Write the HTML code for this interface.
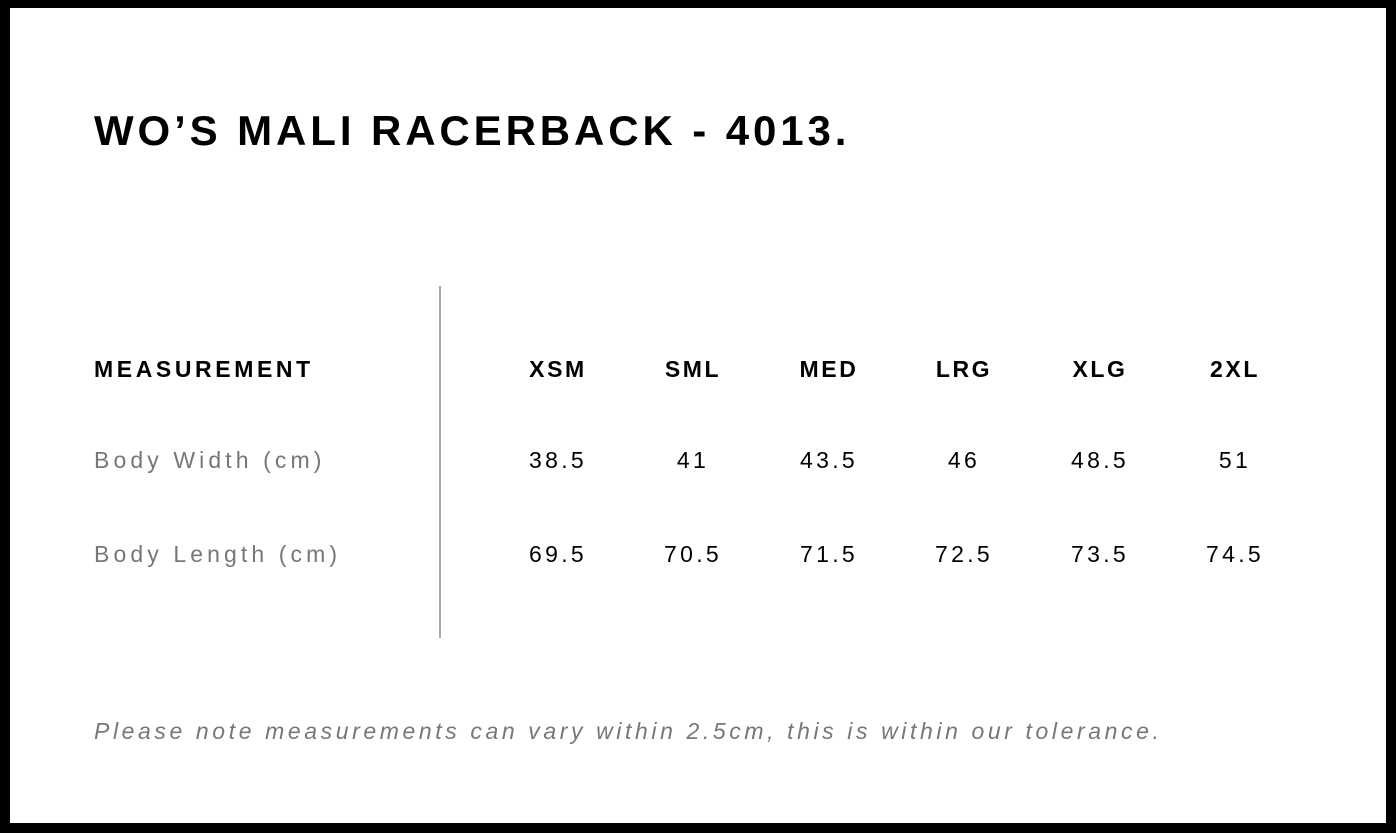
<!DOCTYPE html>
<html><head><style>
html,body{margin:0;padding:0}
body{width:1396px;height:833px;position:relative;background:#000;font-family:"Liberation Sans",Arial,sans-serif;overflow:hidden}
.card{position:absolute;left:10px;top:8px;width:1376px;height:815px;background:#fff}
.t{position:absolute;white-space:nowrap;line-height:1}
.title{left:94px;top:110px;font-size:42px;font-weight:bold;letter-spacing:3.9px;color:#000}
.h{font-size:23px;font-weight:bold;letter-spacing:3.6px;color:#000;top:358px}
.hc{font-size:23px;font-weight:bold;letter-spacing:2.6px;color:#000;top:358px;width:140px;text-align:center}
.l{font-size:23px;letter-spacing:4.1px;color:#777}
.v{font-size:23px;letter-spacing:3.3px;color:#000;width:140px;text-align:center}
.note{left:94px;top:720px;font-size:23px;font-style:italic;letter-spacing:3.6px;color:#777}
.vl{position:absolute;left:439px;top:286px;width:2px;height:352px;background:#aaa}
</style></head><body>
<div class="card"></div>
<div class="t title">WO’S MALI RACERBACK - 4013.</div>
<div class="vl"></div>
<div class="t h" style="left:94px">MEASUREMENT</div>
<div class="t hc" style="left:488px">XSM</div>
<div class="t hc" style="left:623px">SML</div>
<div class="t hc" style="left:759px">MED</div>
<div class="t hc" style="left:894px">LRG</div>
<div class="t hc" style="left:1030px">XLG</div>
<div class="t hc" style="left:1165px">2XL</div>
<div class="t l" style="left:94px;top:449px">Body Width (cm)</div>
<div class="t l" style="left:94px;top:543px">Body Length (cm)</div>
<div class="t v" style="left:488px;top:449px">38.5</div>
<div class="t v" style="left:623px;top:449px">41</div>
<div class="t v" style="left:759px;top:449px">43.5</div>
<div class="t v" style="left:894px;top:449px">46</div>
<div class="t v" style="left:1030px;top:449px">48.5</div>
<div class="t v" style="left:1165px;top:449px">51</div>
<div class="t v" style="left:488px;top:543px">69.5</div>
<div class="t v" style="left:623px;top:543px">70.5</div>
<div class="t v" style="left:759px;top:543px">71.5</div>
<div class="t v" style="left:894px;top:543px">72.5</div>
<div class="t v" style="left:1030px;top:543px">73.5</div>
<div class="t v" style="left:1165px;top:543px">74.5</div>
<div class="t note">Please note measurements can vary within 2.5cm, this is within our tolerance.</div>
</body></html>
